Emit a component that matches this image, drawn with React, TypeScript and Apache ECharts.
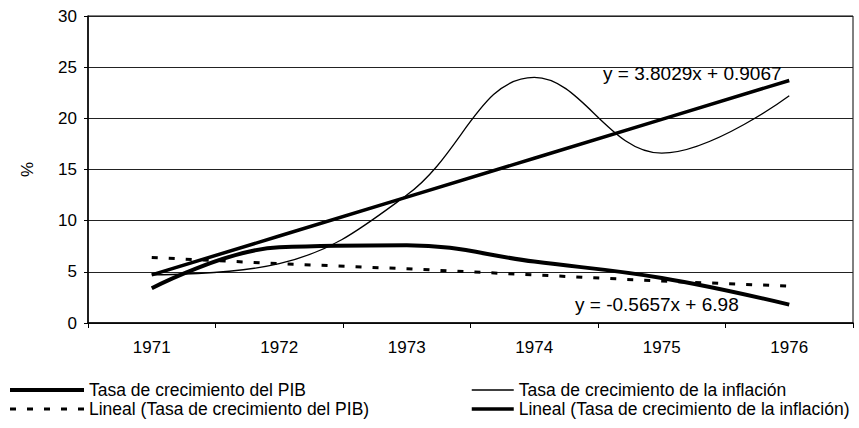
import React, { useEffect, useRef } from "react";
import * as echarts from "echarts";

const years = ["1971", "1972", "1973", "1974", "1975", "1976"];
const pib = [3.4, 7.4, 7.6, 6.0, 4.4, 1.8];
const inflacion = [4.7, 5.8, 12.5, 24.0, 16.6, 22.2];
const pibTrend = [6.4, 5.8, 5.3, 4.7, 4.1, 3.6];
const inflTrend = [4.7, 8.5, 12.3, 16.1, 19.9, 23.7];
const seriesNames = [
  "Tasa de crecimiento del PIB",
  "Tasa de crecimiento de la inflación",
  "Lineal (Tasa de crecimiento del PIB)",
  "Lineal (Tasa de crecimiento de la inflación)",
];
const eqInfl = "y = 3.8029x + 0.9067";
const eqPib = "y = -0.5657x + 6.98";

const FONT = "'Liberation Sans', Arial, sans-serif";

export default function App() {
  const ref = useRef<HTMLDivElement>(null);
  useEffect(() => {
    if (!ref.current) return;
    const chart = echarts.init(ref.current, undefined, { renderer: "svg" });
    const textStyle = { fontFamily: FONT, fontSize: 17.5, color: "#000" };
    const axisText = { fontFamily: FONT, fontSize: 17, color: "#000" };
    const legendBase = {
      orient: "vertical",
      top: 381,
      itemHeight: 14,
      itemGap: 1,
      padding: 0,
      textStyle: { ...textStyle, lineHeight: 17 },
      itemStyle: { opacity: 0 },
      lineStyle: { width: "inherit" },
    };
    chart.setOption({
      animation: false,
      backgroundColor: "#fff",
      textStyle,
      grid: {
        left: 88,
        right: 6,
        top: 16,
        bottom: 105,
        show: true,
        borderColor: "#000",
        borderWidth: 1,
      },
      xAxis: {
        type: "category",
        data: years,
        boundaryGap: true,
        axisLine: { lineStyle: { color: "#000", width: 1.5 } },
        axisTick: { show: true, length: 5, lineStyle: { color: "#000" } },
        axisLabel: { ...axisText, margin: 16 },
      },
      yAxis: {
        type: "value",
        min: 0,
        max: 30,
        interval: 5,
        name: "%",
        nameLocation: "middle",
        nameGap: 52,
        nameRotate: 90,
        nameTextStyle: { ...axisText },
        axisLine: { show: true, lineStyle: { color: "#000", width: 1.5 } },
        axisTick: { show: true, length: 4, lineStyle: { color: "#000" } },
        axisLabel: { ...axisText, margin: 11 },
        splitLine: { lineStyle: { color: "#222", width: 1 } },
      },
      legend: [
        {
          ...legendBase,
          left: 8,
          itemWidth: 74,
          data: [seriesNames[0], seriesNames[2]],
        },
        {
          ...legendBase,
          left: 470,
          itemWidth: 42,
          data: [seriesNames[1], seriesNames[3]],
        },
      ],
      series: [
        {
          name: seriesNames[0],
          type: "line",
          data: pib,
          smooth: 0.4,
          symbol: "none",
          lineStyle: { color: "#000", width: 4 },
          itemStyle: { color: "#000" },
          z: 4,
        },
        {
          name: seriesNames[1],
          type: "line",
          data: inflacion,
          smooth: 0.4,
          symbol: "none",
          lineStyle: { color: "#000", width: 1.3 },
          itemStyle: { color: "#000" },
          z: 3,
        },
        {
          name: seriesNames[2],
          type: "line",
          data: pibTrend,
          symbol: "none",
          lineStyle: { color: "#000", width: 3, type: [6, 11] },
          itemStyle: { color: "#000" },
          z: 2,
        },
        {
          name: seriesNames[3],
          type: "line",
          data: inflTrend,
          symbol: "none",
          lineStyle: { color: "#000", width: 3.5 },
          itemStyle: { color: "#000" },
          z: 5,
        },
      ],
      graphic: [
        {
          type: "text",
          left: 603,
          top: 64,
          z: 10,
          style: { text: eqInfl, font: `19px ${FONT}`, fill: "#000" },
        },
        {
          type: "text",
          left: 575,
          top: 295,
          z: 10,
          style: { text: eqPib, font: `19px ${FONT}`, fill: "#000" },
        },
      ],
    });
    return () => chart.dispose();
  }, []);
  return <div ref={ref} style={{ width: 859, height: 428, position: "absolute", left: 0, top: 0 }} />;
}
